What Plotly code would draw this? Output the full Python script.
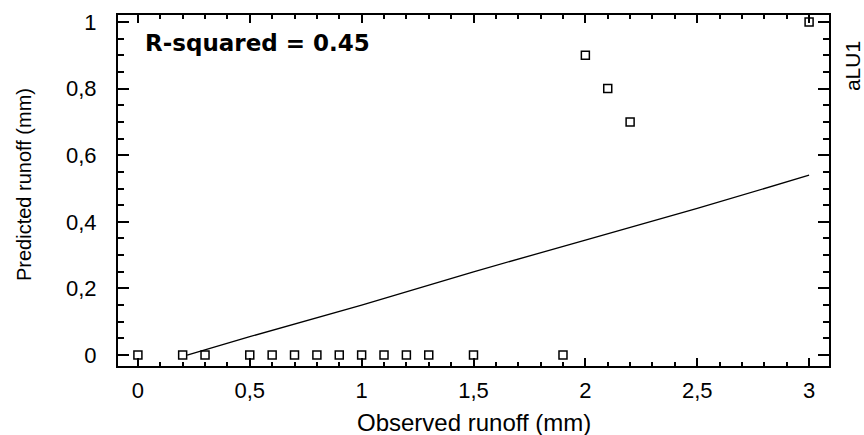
import plotly.graph_objects as go

# Observed vs predicted runoff (mm)
obs_x = [0, 0.2, 0.3, 0.5, 0.6, 0.7, 0.8, 0.9, 1.0, 1.1, 1.2, 1.3, 1.5, 1.9, 2.0, 2.1, 2.2, 3.0]
pred_y = [0, 0, 0, 0, 0, 0, 0, 0, 0, 0, 0, 0, 0, 0, 0.9, 0.8, 0.7, 1.0]

# fitted line
fit_x = [0.22, 0.5, 1.0, 1.5, 2.0, 2.5, 3.0]
fit_y = [0.0, 0.055, 0.15, 0.25, 0.345, 0.44, 0.54]

x_ticks = [0, 0.5, 1, 1.5, 2, 2.5, 3]
x_labels = ["0", "0,5", "1", "1,5", "2", "2,5", "3"]
y_ticks = [0, 0.2, 0.4, 0.6, 0.8, 1]
y_labels = ["0", "0,2", "0,4", "0,6", "0,8", "1"]

FONT = "Liberation Sans, Arial, sans-serif"

fig = go.Figure()
fig.add_trace(go.Scatter(x=fit_x, y=fit_y, mode="lines",
                         line=dict(color="black", width=1.3), showlegend=False))
fig.add_trace(go.Scatter(x=obs_x, y=pred_y, mode="markers",
                         marker=dict(symbol="square-open", size=8, color="black",
                                     line=dict(width=1.5, color="black")),
                         cliponaxis=False, showlegend=False))

fig.update_layout(
    width=864, height=435,
    margin=dict(l=118, r=35, t=15, b=69, autoexpand=False),
    paper_bgcolor="white", plot_bgcolor="white",
    separators=",.",
    font=dict(family=FONT, size=22, color="black"),
    xaxis=dict(
        range=[-0.089, 3.089], tickvals=x_ticks, ticktext=x_labels,
        ticks="inside", ticklen=8, tickwidth=1.5, tickcolor="black",
        minor=dict(dtick=0.1, ticks="inside", ticklen=4, tickwidth=1.5, tickcolor="black"),
        showline=True, linecolor="black", linewidth=2, mirror="ticks",
        showgrid=False, zeroline=False, ticklabelstandoff=4, automargin=False,
        tickfont=dict(size=22),
    ),
    yaxis=dict(
        range=[-0.033, 1.021], tickvals=y_ticks, ticktext=y_labels,
        ticks="inside", ticklen=11, tickwidth=1.5, tickcolor="black",
        minor=dict(dtick=0.05, ticks="inside", ticklen=6, tickwidth=1.5, tickcolor="black"),
        showline=True, linecolor="black", linewidth=2, mirror="ticks",
        showgrid=False, zeroline=False, ticklabelstandoff=15, automargin=False,
        tickfont=dict(size=22),
    ),
)

# axis titles
fig.add_annotation(x=0.5, y=-0.162, xref="paper", yref="paper", xanchor="center", yanchor="middle",
                   text="Observed runoff (mm)", showarrow=False,
                   font=dict(family=FONT, size=24, color="black"))
fig.add_annotation(x=-0.132, y=0.516, xref="paper", yref="paper", xanchor="center", yanchor="middle",
                   text="Predicted runoff (mm)", textangle=-90, showarrow=False,
                   font=dict(family=FONT, size=20, color="black"))

fig.add_annotation(x=0.035, y=0.92, xref="paper", yref="paper", xanchor="left", yanchor="middle",
                   text="<b>R-squared = 0.45</b>", showarrow=False,
                   font=dict(family="DejaVu Sans, sans-serif", size=23, color="black"))
fig.add_annotation(x=1.034, y=0.855, xref="paper", yref="paper", xanchor="center", yanchor="middle",
                   text="aLU1", textangle=-90, showarrow=False,
                   font=dict(family=FONT, size=21, color="black"))

fig.write_html("out.html")
